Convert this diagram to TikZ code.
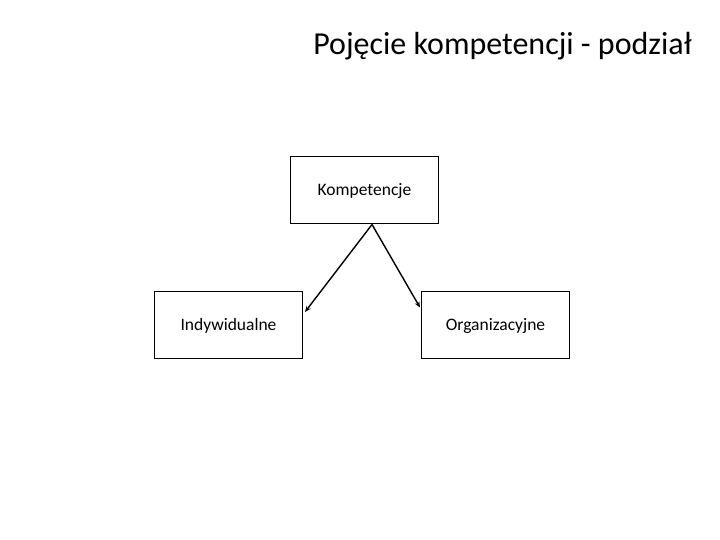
\documentclass[tikz,border=0pt]{standalone}
\usepackage{fontspec}
\setmainfont{Carlito}
\usetikzlibrary{arrows.meta}
\begin{document}
\begin{tikzpicture}[x=1pt,y=1pt,
  box/.style={draw,line width=1pt,minimum width=148pt,minimum height=67pt,inner sep=0pt,font=\fontsize{17.5}{20}\selectfont},
  conn/.style={line width=1.4pt,-{Stealth[length=6pt,width=5pt]}}]
\useasboundingbox (0,0) rectangle (720,540);
\node[font=\fontsize{32}{38}\selectfont] (title) at (502.5,494) {Pojęcie kompetencji - podział};
\node[box] (komp) at (364.5,349.5) {Kompetencje};
\node[box] (ind) at (228.5,214.5) {Indywidualne};
\node[box] (org) at (495.5,214.5) {Organizacyjne};
\coordinate (s) at ([xshift=7.5pt]komp.south);
\draw[conn] (s) -- ([xshift=2pt,yshift=13.5pt]ind.east);
\draw[conn] (s) -- ([xshift=-1pt,yshift=18pt]org.west);
\end{tikzpicture}
\end{document}
